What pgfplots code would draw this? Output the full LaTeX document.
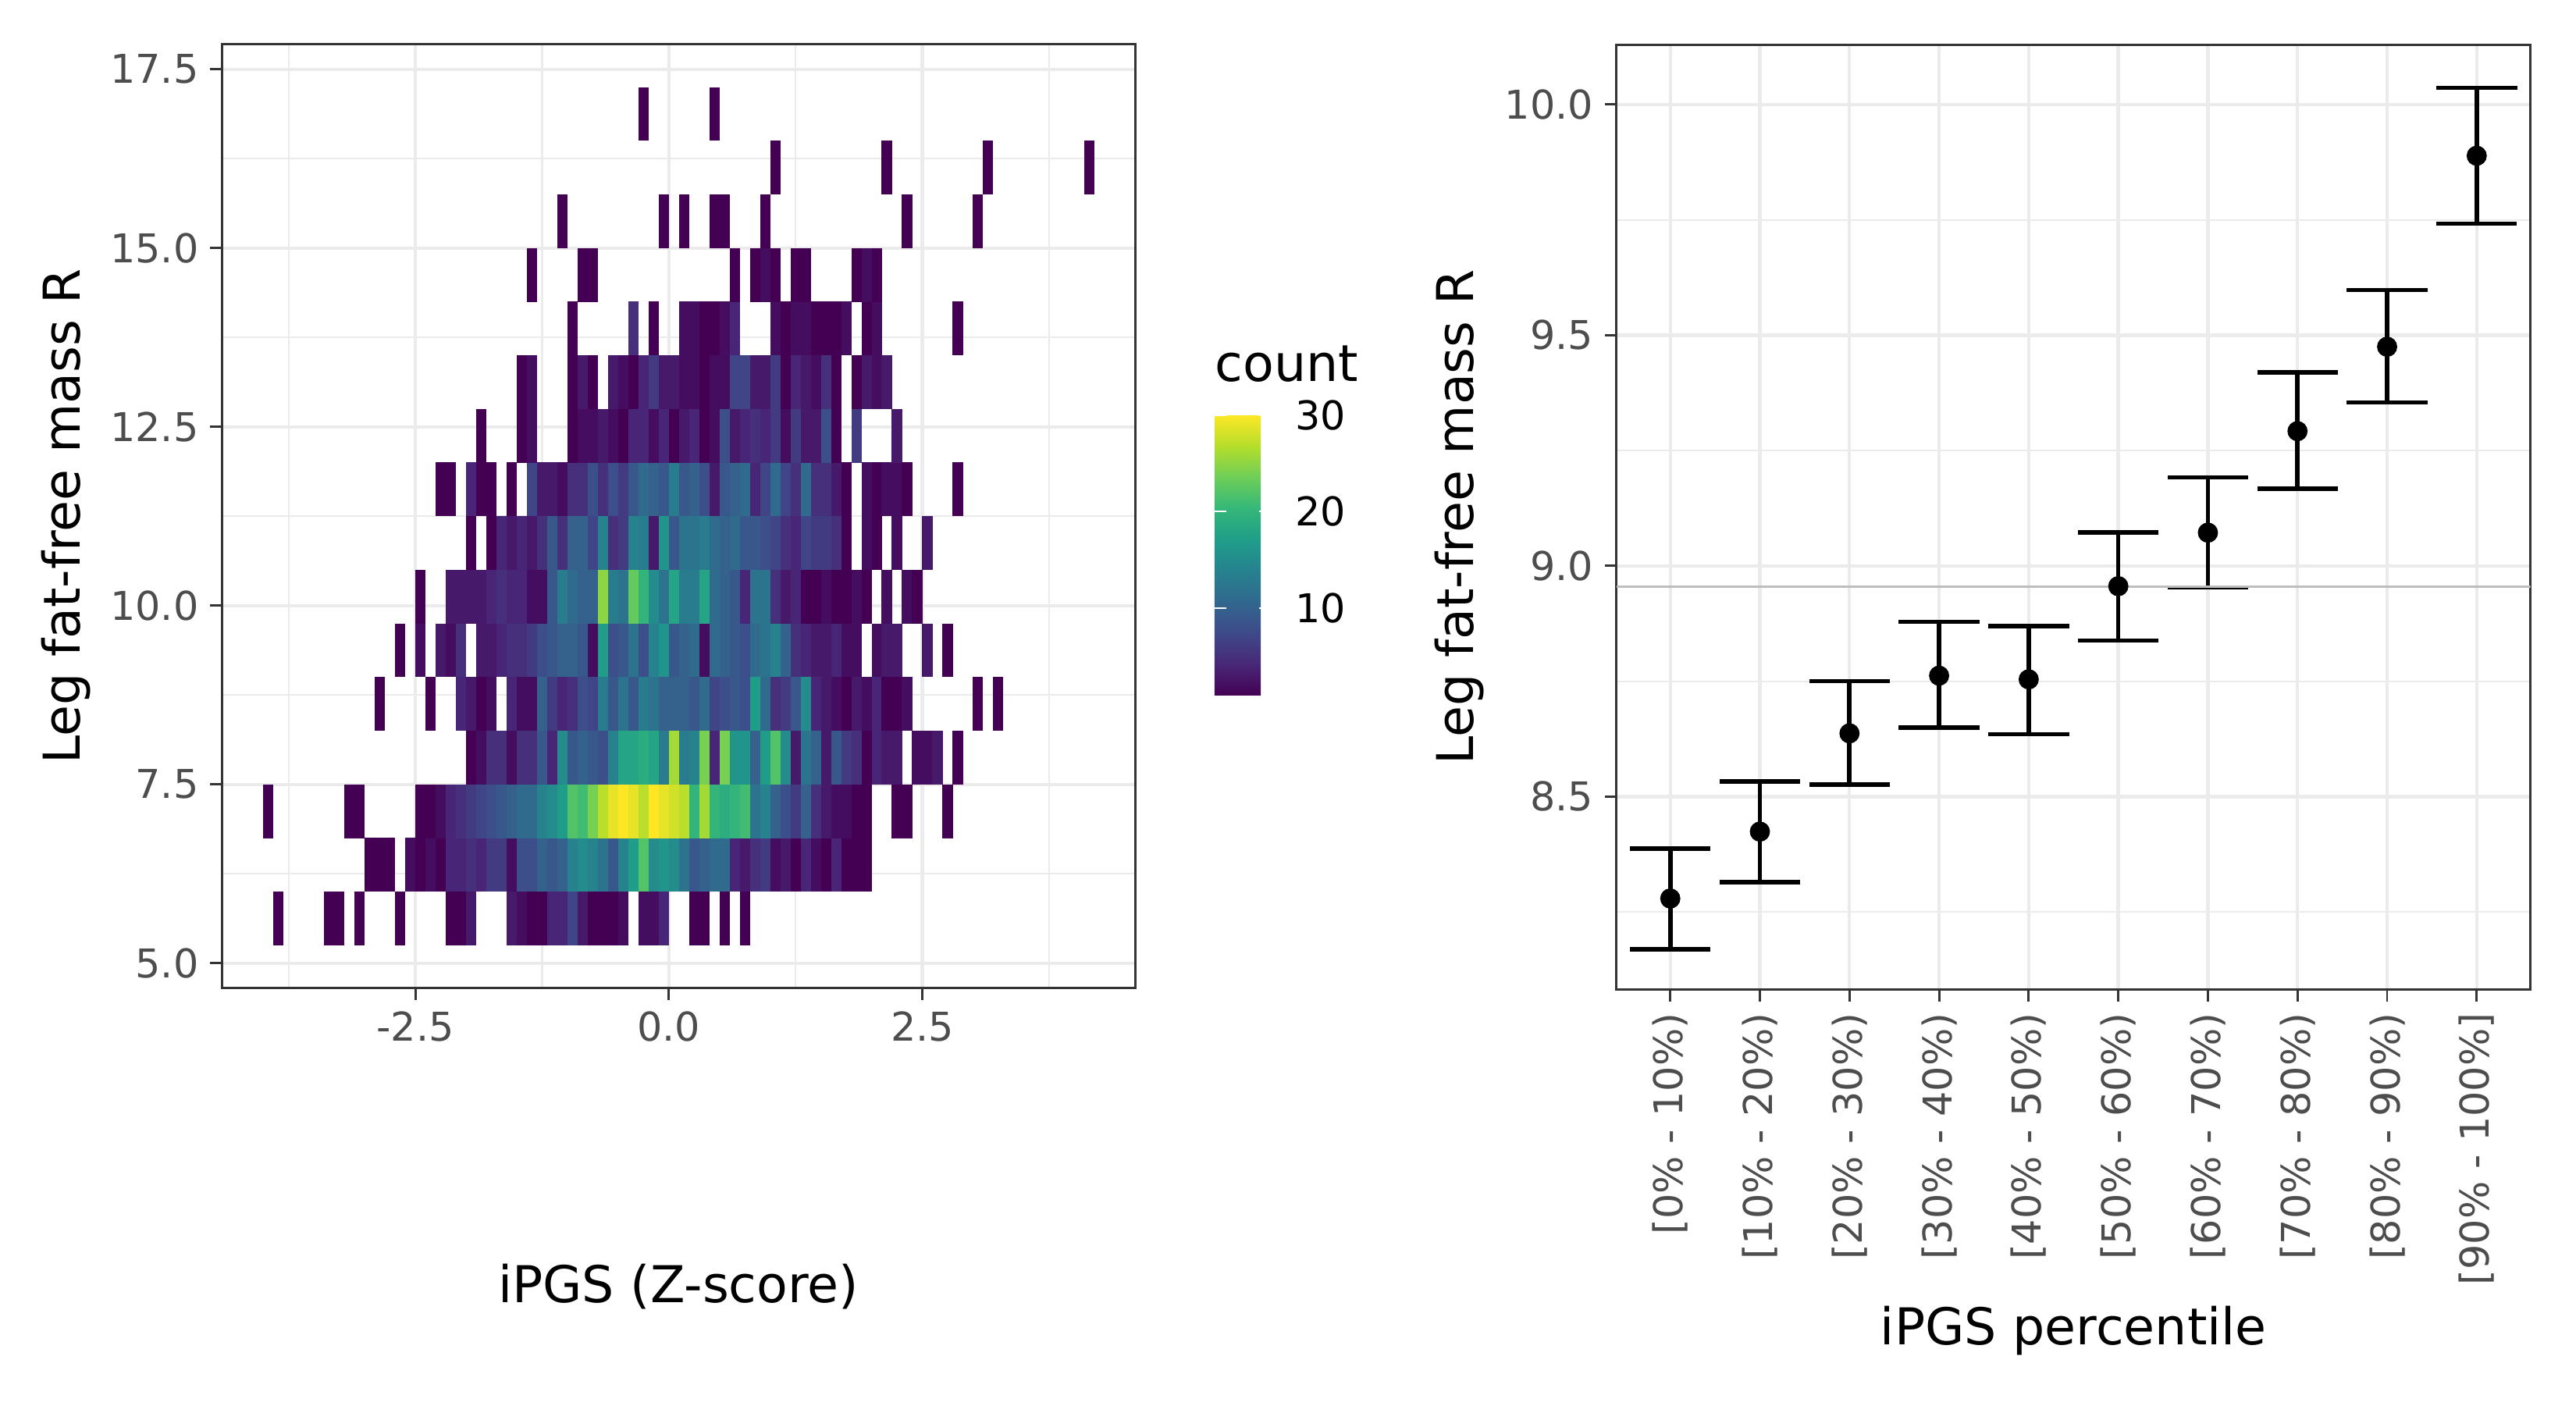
\documentclass[border=0pt]{standalone}
\usepackage{pgfplots}
\pgfplotsset{compat=1.18}
\usepackage{pgfplotstable}
\usepackage{fontspec}
\setmainfont{DejaVu Sans}
\definecolor{gridc}{HTML}{EBEBEB}
\definecolor{borderc}{HTML}{333333}
\definecolor{tickc}{HTML}{4D4D4D}
\definecolor{hlinec}{HTML}{BEBEBE}
\newcommand{\tickfont}{\fontsize{12.2}{14}\selectfont}
\newcommand{\titlefont}{\fontsize{15.6}{18}\selectfont}
\pgfdeclareplotmark{cell}{%
  \pgfpathrectangle{\pgfpoint{-1.575pt}{-8.26pt}}{\pgfpoint{3.15pt}{16.52pt}}%
  \pgfusepath{fill}}
\pgfplotsset{/pgf/number format/assume math mode=true,
  ggbase/.style={scale only axis,
    axis line style={draw=borderc, line width=0.7pt},
    tick style={draw=borderc, line width=0.7pt},
    major tick length=3.6pt, minor tick length=0pt, tick align=outside, tick pos=left,
    grid=both,
    major grid style={draw=gridc, line width=1.05pt},
    minor grid style={draw=gridc, line width=0.5pt},
    tick label style={font=\tickfont, text=tickc},
    label style={font=\titlefont, text=black}}}

\pgfplotstableread[row sep=\\]{
x y c\\
-3.85 5.625 1\\ -3.35 5.625 1\\ -3.25 5.625 1\\ -3.05 5.625 1\\ -2.65 5.625 1\\ -2.15 5.625 1\\ -2.05 5.625 1\\ -1.95 5.625 3\\ -1.55 5.625 3\\ -1.45 5.625 2\\ -1.35 5.625 1\\ -1.25 5.625 1\\ -1.15 5.625 4\\ -1.05 5.625 4\\ -0.95 5.625 7\\ -0.85 5.625 3\\ -0.75 5.625 1\\ -0.65 5.625 1\\ -0.55 5.625 1\\ -0.45 5.625 2\\ -0.25 5.625 2\\ -0.15 5.625 2\\ -0.05 5.625 4\\ 0.25 5.625 1\\ 0.35 5.625 1\\ 0.55 5.625 1\\ 0.75 5.625 1\\
-2.95 6.375 1\\ -2.85 6.375 1\\ -2.75 6.375 1\\ -2.55 6.375 2\\ -2.45 6.375 1\\ -2.35 6.375 2\\ -2.25 6.375 1\\ -2.15 6.375 4\\ -2.05 6.375 4\\ -1.95 6.375 5\\ -1.85 6.375 4\\ -1.75 6.375 6\\ -1.65 6.375 6\\ -1.55 6.375 2\\ -1.45 6.375 8\\ -1.35 6.375 8\\ -1.25 6.375 10\\ -1.15 6.375 9\\ -1.05 6.375 10\\ -0.95 6.375 14\\ -0.85 6.375 15\\ -0.75 6.375 14\\ -0.65 6.375 12\\ -0.55 6.375 9\\ -0.45 6.375 14\\ -0.35 6.375 17\\ -0.25 6.375 22\\ -0.15 6.375 15\\ -0.05 6.375 16\\ 0.05 6.375 15\\ 0.15 6.375 12\\ 0.25 6.375 9\\ 0.35 6.375 10\\ 0.45 6.375 11\\ 0.55 6.375 11\\ 0.65 6.375 4\\ 0.75 6.375 3\\ 0.85 6.375 5\\ 0.95 6.375 6\\ 1.05 6.375 2\\ 1.15 6.375 3\\ 1.25 6.375 1\\ 1.35 6.375 4\\ 1.45 6.375 2\\ 1.55 6.375 1\\ 1.65 6.375 4\\ 1.75 6.375 1\\ 1.85 6.375 1\\ 1.95 6.375 1\\
-3.95 7.125 1\\ -3.15 7.125 1\\ -3.05 7.125 1\\ -2.45 7.125 1\\ -2.35 7.125 1\\ -2.25 7.125 2\\ -2.15 7.125 4\\ -2.05 7.125 5\\ -1.95 7.125 6\\ -1.85 7.125 7\\ -1.75 7.125 8\\ -1.65 7.125 9\\ -1.55 7.125 10\\ -1.45 7.125 11\\ -1.35 7.125 11\\ -1.25 7.125 14\\ -1.15 7.125 15\\ -1.05 7.125 17\\ -0.95 7.125 22\\ -0.85 7.125 21\\ -0.75 7.125 24\\ -0.65 7.125 27\\ -0.55 7.125 29\\ -0.45 7.125 30\\ -0.35 7.125 29\\ -0.25 7.125 27\\ -0.15 7.125 30\\ -0.05 7.125 29\\ 0.05 7.125 28\\ 0.15 7.125 27\\ 0.25 7.125 20\\ 0.35 7.125 26\\ 0.45 7.125 20\\ 0.55 7.125 19\\ 0.65 7.125 20\\ 0.75 7.125 21\\ 0.85 7.125 12\\ 0.95 7.125 14\\ 1.05 7.125 10\\ 1.15 7.125 8\\ 1.25 7.125 6\\ 1.35 7.125 10\\ 1.45 7.125 5\\ 1.55 7.125 3\\ 1.65 7.125 2\\ 1.75 7.125 2\\ 1.85 7.125 1\\ 1.95 7.125 1\\ 2.25 7.125 1\\ 2.35 7.125 1\\ 2.75 7.125 1\\
-1.95 7.875 1\\ -1.85 7.875 2\\ -1.75 7.875 5\\ -1.65 7.875 5\\ -1.55 7.875 2\\ -1.45 7.875 5\\ -1.35 7.875 5\\ -1.25 7.875 9\\ -1.15 7.875 4\\ -1.05 7.875 15\\ -0.95 7.875 9\\ -0.85 7.875 10\\ -0.75 7.875 9\\ -0.65 7.875 8\\ -0.55 7.875 14\\ -0.45 7.875 18\\ -0.35 7.875 18\\ -0.25 7.875 19\\ -0.15 7.875 18\\ -0.05 7.875 13\\ 0.05 7.875 26\\ 0.15 7.875 13\\ 0.25 7.875 14\\ 0.35 7.875 24\\ 0.45 7.875 4\\ 0.55 7.875 24\\ 0.65 7.875 16\\ 0.75 7.875 16\\ 0.85 7.875 10\\ 0.95 7.875 17\\ 1.05 7.875 22\\ 1.15 7.875 15\\ 1.25 7.875 3\\ 1.35 7.875 12\\ 1.45 7.875 10\\ 1.55 7.875 3\\ 1.65 7.875 9\\ 1.75 7.875 6\\ 1.85 7.875 5\\ 1.95 7.875 1\\ 2.05 7.875 4\\ 2.15 7.875 3\\ 2.25 7.875 3\\ 2.45 7.875 2\\ 2.55 7.875 2\\ 2.65 7.875 3\\ 2.85 7.875 1\\
-2.85 8.625 1\\ -2.35 8.625 1\\ -2.05 8.625 4\\ -1.95 8.625 3\\ -1.85 8.625 1\\ -1.75 8.625 2\\ -1.55 8.625 4\\ -1.45 8.625 2\\ -1.35 8.625 2\\ -1.25 8.625 10\\ -1.15 8.625 6\\ -1.05 8.625 4\\ -0.95 8.625 5\\ -0.85 8.625 8\\ -0.75 8.625 7\\ -0.65 8.625 13\\ -0.55 8.625 9\\ -0.45 8.625 12\\ -0.35 8.625 9\\ -0.25 8.625 13\\ -0.15 8.625 12\\ -0.05 8.625 10\\ 0.05 8.625 10\\ 0.15 8.625 10\\ 0.25 8.625 9\\ 0.35 8.625 11\\ 0.45 8.625 7\\ 0.55 8.625 8\\ 0.65 8.625 9\\ 0.75 8.625 8\\ 0.85 8.625 17\\ 0.95 8.625 11\\ 1.05 8.625 5\\ 1.15 8.625 6\\ 1.25 8.625 9\\ 1.35 8.625 15\\ 1.45 8.625 4\\ 1.55 8.625 3\\ 1.65 8.625 2\\ 1.75 8.625 1\\ 1.85 8.625 3\\ 1.95 8.625 2\\ 2.05 8.625 4\\ 2.15 8.625 1\\ 2.25 8.625 1\\ 2.35 8.625 2\\ 3.05 8.625 1\\ 3.25 8.625 1\\
-2.65 9.375 1\\ -2.45 9.375 2\\ -2.25 9.375 3\\ -2.15 9.375 2\\ -2.05 9.375 5\\ -1.85 9.375 3\\ -1.75 9.375 3\\ -1.65 9.375 4\\ -1.55 9.375 5\\ -1.45 9.375 5\\ -1.35 9.375 6\\ -1.25 9.375 8\\ -1.15 9.375 9\\ -1.05 9.375 10\\ -0.95 9.375 10\\ -0.85 9.375 9\\ -0.75 9.375 2\\ -0.65 9.375 17\\ -0.55 9.375 8\\ -0.45 9.375 9\\ -0.35 9.375 12\\ -0.25 9.375 8\\ -0.15 9.375 14\\ -0.05 9.375 16\\ 0.05 9.375 9\\ 0.15 9.375 10\\ 0.25 9.375 11\\ 0.35 9.375 2\\ 0.45 9.375 11\\ 0.55 9.375 10\\ 0.65 9.375 9\\ 0.75 9.375 8\\ 0.85 9.375 11\\ 0.95 9.375 12\\ 1.05 9.375 14\\ 1.15 9.375 10\\ 1.25 9.375 5\\ 1.35 9.375 4\\ 1.45 9.375 3\\ 1.55 9.375 3\\ 1.65 9.375 4\\ 1.75 9.375 2\\ 1.85 9.375 2\\ 2.05 9.375 2\\ 2.15 9.375 3\\ 2.25 9.375 3\\ 2.55 9.375 3\\ 2.75 9.375 1\\
-2.45 10.125 1\\ -2.15 10.125 3\\ -2.05 10.125 3\\ -1.95 10.125 3\\ -1.85 10.125 3\\ -1.75 10.125 4\\ -1.65 10.125 5\\ -1.55 10.125 4\\ -1.45 10.125 4\\ -1.35 10.125 2\\ -1.25 10.125 2\\ -1.15 10.125 9\\ -1.05 10.125 13\\ -0.95 10.125 11\\ -0.85 10.125 10\\ -0.75 10.125 10\\ -0.65 10.125 25\\ -0.55 10.125 13\\ -0.45 10.125 12\\ -0.35 10.125 23\\ -0.25 10.125 20\\ -0.15 10.125 15\\ -0.05 10.125 12\\ 0.05 10.125 18\\ 0.15 10.125 13\\ 0.25 10.125 13\\ 0.35 10.125 18\\ 0.45 10.125 11\\ 0.55 10.125 10\\ 0.65 10.125 9\\ 0.75 10.125 4\\ 0.85 10.125 12\\ 0.95 10.125 12\\ 1.05 10.125 5\\ 1.15 10.125 3\\ 1.25 10.125 4\\ 1.35 10.125 1\\ 1.45 10.125 1\\ 1.55 10.125 2\\ 1.65 10.125 1\\ 1.75 10.125 1\\ 1.85 10.125 2\\ 1.95 10.125 1\\ 2.15 10.125 2\\ 2.35 10.125 2\\ 2.45 10.125 1\\
-1.95 10.875 1\\ -1.75 10.875 1\\ -1.65 10.875 4\\ -1.55 10.875 3\\ -1.45 10.875 4\\ -1.35 10.875 3\\ -1.25 10.875 5\\ -1.15 10.875 9\\ -1.05 10.875 5\\ -0.95 10.875 10\\ -0.85 10.875 10\\ -0.75 10.875 7\\ -0.65 10.875 14\\ -0.55 10.875 5\\ -0.45 10.875 6\\ -0.35 10.875 14\\ -0.25 10.875 13\\ -0.15 10.875 3\\ -0.05 10.875 16\\ 0.05 10.875 9\\ 0.15 10.875 12\\ 0.25 10.875 12\\ 0.35 10.875 13\\ 0.45 10.875 11\\ 0.55 10.875 10\\ 0.65 10.875 11\\ 0.75 10.875 9\\ 0.85 10.875 9\\ 0.95 10.875 8\\ 1.05 10.875 7\\ 1.15 10.875 5\\ 1.25 10.875 4\\ 1.35 10.875 7\\ 1.45 10.875 6\\ 1.55 10.875 6\\ 1.65 10.875 5\\ 1.75 10.875 1\\ 1.95 10.875 2\\ 2.05 10.875 1\\ 2.25 10.875 2\\ 2.55 10.875 3\\
-2.25 11.625 1\\ -2.15 11.625 1\\ -1.95 11.625 4\\ -1.85 11.625 1\\ -1.75 11.625 1\\ -1.55 11.625 1\\ -1.35 11.625 7\\ -1.25 11.625 3\\ -1.15 11.625 3\\ -1.05 11.625 2\\ -0.95 11.625 5\\ -0.85 11.625 5\\ -0.75 11.625 8\\ -0.65 11.625 5\\ -0.55 11.625 8\\ -0.45 11.625 6\\ -0.35 11.625 9\\ -0.25 11.625 11\\ -0.15 11.625 10\\ -0.05 11.625 9\\ 0.05 11.625 13\\ 0.15 11.625 9\\ 0.25 11.625 10\\ 0.35 11.625 8\\ 0.45 11.625 3\\ 0.55 11.625 9\\ 0.65 11.625 10\\ 0.75 11.625 11\\ 0.85 11.625 4\\ 0.95 11.625 7\\ 1.05 11.625 11\\ 1.15 11.625 7\\ 1.25 11.625 5\\ 1.35 11.625 11\\ 1.45 11.625 5\\ 1.55 11.625 5\\ 1.65 11.625 3\\ 1.75 11.625 1\\ 1.95 11.625 2\\ 2.05 11.625 1\\ 2.15 11.625 2\\ 2.25 11.625 2\\ 2.35 11.625 1\\ 2.85 11.625 1\\
-1.85 12.375 1\\ -1.45 12.375 1\\ -1.35 12.375 2\\ -0.95 12.375 1\\ -0.85 12.375 2\\ -0.75 12.375 2\\ -0.65 12.375 3\\ -0.55 12.375 2\\ -0.45 12.375 1\\ -0.35 12.375 4\\ -0.25 12.375 4\\ -0.15 12.375 2\\ -0.05 12.375 4\\ 0.05 12.375 1\\ 0.15 12.375 3\\ 0.25 12.375 4\\ 0.35 12.375 1\\ 0.45 12.375 2\\ 0.55 12.375 8\\ 0.65 12.375 3\\ 0.75 12.375 4\\ 0.85 12.375 5\\ 0.95 12.375 4\\ 1.05 12.375 6\\ 1.15 12.375 2\\ 1.25 12.375 6\\ 1.35 12.375 3\\ 1.45 12.375 3\\ 1.55 12.375 8\\ 1.65 12.375 1\\ 1.85 12.375 6\\ 2.25 12.375 3\\
-1.45 13.125 1\\ -1.35 13.125 2\\ -0.95 13.125 1\\ -0.85 13.125 3\\ -0.75 13.125 1\\ -0.55 13.125 3\\ -0.45 13.125 2\\ -0.35 13.125 1\\ -0.25 13.125 4\\ -0.15 13.125 6\\ -0.05 13.125 3\\ 0.05 13.125 3\\ 0.15 13.125 2\\ 0.25 13.125 2\\ 0.35 13.125 1\\ 0.45 13.125 2\\ 0.55 13.125 2\\ 0.65 13.125 7\\ 0.75 13.125 7\\ 0.85 13.125 3\\ 0.95 13.125 3\\ 1.05 13.125 6\\ 1.15 13.125 1\\ 1.25 13.125 4\\ 1.35 13.125 3\\ 1.45 13.125 2\\ 1.55 13.125 5\\ 1.65 13.125 1\\ 1.85 13.125 1\\ 1.95 13.125 3\\ 2.05 13.125 2\\ 2.15 13.125 3\\
-0.95 13.875 1\\ -0.35 13.875 5\\ -0.15 13.875 1\\ 0.15 13.875 2\\ 0.25 13.875 2\\ 0.35 13.875 1\\ 0.45 13.875 1\\ 0.55 13.875 2\\ 0.65 13.875 4\\ 1.05 13.875 2\\ 1.15 13.875 1\\ 1.25 13.875 2\\ 1.35 13.875 2\\ 1.45 13.875 1\\ 1.55 13.875 1\\ 1.65 13.875 1\\ 1.75 13.875 2\\ 1.95 13.875 1\\ 2.05 13.875 2\\ 2.85 13.875 1\\
-1.35 14.625 1\\ -0.85 14.625 1\\ -0.75 14.625 1\\ 0.65 14.625 1\\ 0.85 14.625 1\\ 0.95 14.625 2\\ 1.05 14.625 1\\ 1.25 14.625 1\\ 1.35 14.625 1\\ 1.85 14.625 1\\ 1.95 14.625 2\\ 2.05 14.625 1\\
-1.05 15.375 1\\ -0.05 15.375 1\\ 0.15 15.375 1\\ 0.45 15.375 1\\ 0.55 15.375 1\\ 0.95 15.375 1\\ 2.35 15.375 1\\ 3.05 15.375 1\\
1.05 16.125 1\\ 2.15 16.125 1\\ 3.15 16.125 1\\ 4.15 16.125 1\\
-0.25 16.875 1\\ 0.45 16.875 1\\
}\heat

\pgfplotstableread[row sep=\\]{
x m lo hi ep em\\
1 8.279 8.169 8.387 0.108 0.110\\
2 8.424 8.314 8.533 0.109 0.110\\
3 8.637 8.526 8.750 0.113 0.111\\
4 8.762 8.649 8.879 0.117 0.113\\
5 8.754 8.635 8.869 0.115 0.119\\
6 8.956 8.838 9.073 0.117 0.118\\
7 9.072 8.953 9.192 0.120 0.119\\
8 9.292 9.167 9.419 0.127 0.125\\
9 9.475 9.354 9.598 0.123 0.121\\
10 9.889 9.742 10.036 0.147 0.147\\
}\pct

\begin{document}
\begin{tikzpicture}
\useasboundingbox (0,0) rectangle (792pt,432pt);
\begin{axis}[ggbase,
  at={(68.2pt,128.2pt)}, anchor=south west,
  width=280.8pt, height=290.2pt,
  xmin=-4.41, xmax=4.60, ymin=4.65, ymax=17.85,
  xtick={-2.5,0,2.5}, xticklabels={-2.5,0.0,2.5},
  ytick={5,7.5,10,12.5,15,17.5}, yticklabels={5.0,7.5,10.0,12.5,15.0,17.5},
  minor xtick={-3.75,-1.25,1.25,3.75},
  minor ytick={6.25,8.75,11.25,13.75,16.25},
  xlabel={iPGS (Z-score)}, ylabel={Leg fat-free mass R},
  xlabel style={at={(axis description cs:0.5,-0.316)}, anchor=center},
  ylabel style={at={(axis description cs:-0.171,0.5)}, anchor=center},
  colormap={vir}{rgb255=(68,1,84) rgb255=(72,40,120) rgb255=(62,74,137) rgb255=(49,104,142) rgb255=(38,130,142) rgb255=(31,158,137) rgb255=(53,183,121) rgb255=(110,206,88) rgb255=(181,222,43) rgb255=(253,231,37)},
  point meta min=1, point meta max=30,
  colorbar shift/.style={},
  colorbar,
  colorbar style={scale only axis, width=17.3pt, height=86pt,
    at={(parent axis.south east)}, anchor=south west, xshift=24.4pt, yshift=90.2pt,
    ytick={10,20,30}, tick align=inside, tick pos=both, yticklabel pos=right,
    major tick length=3.6pt,
    tick style={draw=white, line width=0.6pt},
    axis line style={draw=none},
    yticklabel style={font=\tickfont, text=black, anchor=west, xshift=4pt},
    title={count},
    title style={font=\titlefont, at={(0,1)}, anchor=base west, inner sep=0pt, yshift=4.4pt}},
]
\addplot[scatter, only marks, mark=cell, scatter src=explicit]
  table[x=x, y=y, meta=c]{\heat};
\end{axis}

\begin{axis}[ggbase,
  at={(497pt,127.7pt)}, anchor=south west,
  width=281pt, height=290.6pt,
  xmin=0.4, xmax=10.6, ymin=8.081, ymax=10.13,
  xtick={1,2,3,4,5,6,7,8,9,10},
  xticklabels={{[0\% - 10\%)},{[10\% - 20\%)},{[20\% - 30\%)},{[30\% - 40\%)},{[40\% - 50\%)},{[50\% - 60\%)},{[60\% - 70\%)},{[70\% - 80\%)},{[80\% - 90\%)},{[90\% - 100\%]}},
  xticklabel style={rotate=90, anchor=east},
  ytick={8.5,9,9.5,10}, yticklabels={8.5,9.0,9.5,10.0},
  minor ytick={8.25,8.75,9.25,9.75},
  xlabel={iPGS percentile}, ylabel={Leg fat-free mass R},
  xlabel style={at={(axis description cs:0.5,-0.361)}, anchor=center},
  ylabel style={at={(axis description cs:-0.172,0.5)}, anchor=center},
]
\addplot[only marks, mark=none, black,
  error bars/.cd, y dir=both, y explicit,
  error mark=|,
  error bar style={line width=1.35pt, black},
  error mark options={line width=1.35pt, mark size=12.4pt, black}]
  table[x=x, y=m, y error plus=ep, y error minus=em]{\pct};
\addplot[hlinec, line width=0.55pt] coordinates {(0.4,8.955) (10.6,8.955)};
\addplot[only marks, mark=*, mark size=2.9pt, black] table[x=x, y=m]{\pct};
\end{axis}
\end{tikzpicture}
\end{document}
